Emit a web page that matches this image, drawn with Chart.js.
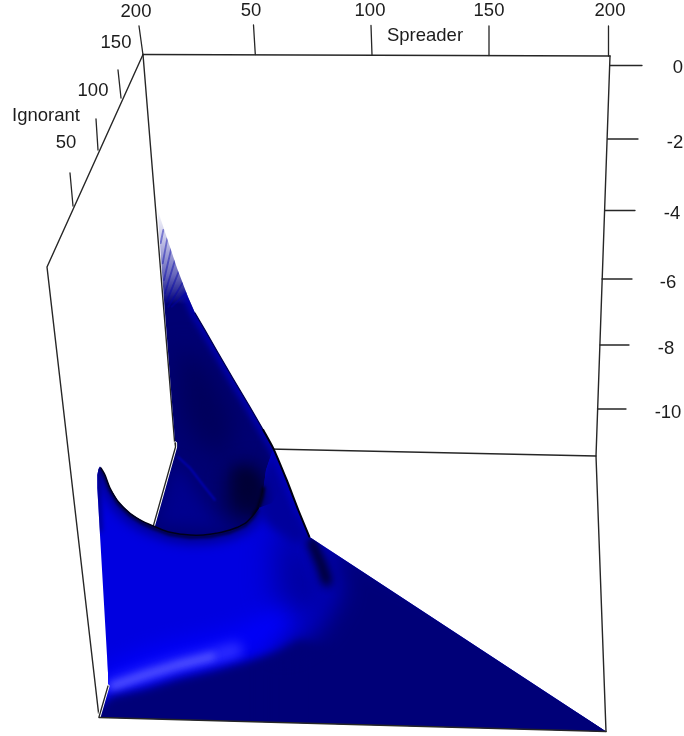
<!DOCTYPE html>
<html>
<head>
<meta charset="utf-8">
<style>html,body{margin:0;padding:0;background:#fff;overflow:hidden}canvas{display:block}</style>
<script src="https://cdn.jsdelivr.net/npm/chart.js@4"></script>
</head>
<body>
<canvas id="c" width="684" height="736"></canvas>
<script>
// ---------- text ----------
const spreaderTickLabels = ["200", "50", "100", "150", "200"];
const spreaderLabelAt = [[136,12],[251,11],[370,11],[489,11],[610,11]];
const ignorantTickLabels = ["150", "100", "50"];
const ignorantLabelAt = [[116,43],[93,91],[66,143]];
const zTickLabels = ["0", "-2", "-4", "-6", "-8", "-10"];
const zLabelAt = [[678,68],[675,143],[672,214],[668,283],[666,349],[668,413]];
const axisTitles = ["Spreader", "Ignorant"];
const axisTitleAt = [[425,35.5],[46,116]];

// ---------- perspective box, in the picture's plane ----------
const boxTop = [[143,54.5],[610,56]];
const boxRight = [[610,56],[596,456],[606,731.5]];
const boxBackLeft = [[143,54.5],[175,447]];
const boxLeft = [[143,54.5],[47,267],[99,717]];
const boxFloorBack = [[175,447],[596,456]];
const boxBottom = [[99,717.5],[606,731.5]];
const innerEdgeUpper = [[175,443],[175.5,447],[153.3,526]];
const innerEdgeLower = [[108,686],[99,717]];
const spreaderTicks = [[143,55],[139,26],null,[255.3,54.5],[253.5,25],null,[372,55],[371,25.5],null,[489,55.5],[489,26],null,[608.5,56],[608.5,26]];
const ignorantTicks = [[121,98],[118,70],null,[98,150],[96,119],null,[73,206],[70,173]];
const zTicks = [[610,65.5],[642,65.5],null,[607.5,139],[638,139],null,[605,210.5],[635,210.5],null,[602,279],[632,279],null,[600,345],[629,345],null,[597.5,409],[626,409]];

// ---------- surface outlines ----------
const backSheetOutline = [[157.5,210],[160,217],[177,268],[188,297],[195,313],[205,330],[216.7,350.5],[233.3,379],[250,407],[263.3,430],[273.3,448.3],[286.7,480],[298.3,510],[309.3,536.7],[258,548],[170,548],[153.3,527],[175.5,447],[164,300]];
const frontOutline = [[100,466.5],[105,475],[110,488],[118.3,501.7],[130,513.3],[143.3,521.7],[153.3,526],[170,532.3],[190,535],[210,534.3],[230,530],[245,523.3],[253.3,515],[258.3,508],[263,492],[266,470],[273.3,448.3],[286.7,480],[298.3,510],[309.3,536.7],[606,731.5],[99,717.5],[108,687],[108,673],[100,535],[97.3,488],[97.3,475],[98.5,469]];
const foldArea = [[262,470],[273.3,448.3],[286.7,480],[298.3,510],[309.3,536.7],[296,545],[268,525],[258,508]];
const foldClip = [[225,440],[273.3,448.3],[286.7,480],[272,503],[258.3,508],[253.3,515],[245,523.3],[230,530]];
const floorBand = [[85,712],[100,706],[112,696],[145,689],[178,679],[212,671],[245,662],[278,651],[300,640],[660,735],[660,770],[80,770]];
const floorRight = [[280,652],[318,628],[340,590],[328,560],[322,530],[690,720],[680,780],[280,780]];
const rightShade = [[280,515],[305,540],[335,600],[300,625],[275,590]];
const sheenPath = [[113,686],[145,675],[178,665],[212,656.5],[235,650]];
const sheenWide = [[112,680],[145,665],[180,655],[215,648],[250,638],[275,625]];
const neckShadow = [[311,540],[316,552],[322,566],[327,582]];
const ridgeBand = [[186,295],[195,315],[205,332],[216.7,352],[233.3,381],[250,409],[263.3,432],[273.3,450],[286.7,482],[298.3,512]];
const arcCurve = [[100,468],[105,477],[110,490],[118.3,503.7],[130,515.3],[143.3,523.7],[153.3,528],[170,534.3],[190,537],[210,536.3],[230,532],[245,525.3],[253.3,517],[258.3,510]];
const leftShadow = [[99,472],[98.5,490],[100,530]];
const arcEdge = [[101,468],[105,475],[110,488],[118.3,501.7],[130,513.3],[143.3,521.7],[153.3,526],[170,532.3],[190,535],[210,534.3],[230,530],[245,523.3],[253.3,515],[258.3,508]];
const arcTail = [[253.3,515],[258.3,508],[262,497],[263.5,488]];
const ridgeEdgeUpper = [[195,313],[205,330],[216.7,350.5],[233.3,379],[250,407],[263.3,430]];
const ridgeEdgeLower = [[263.3,430],[273.3,448.3],[286.7,480],[298.3,510],[309.3,536.7]];
const backShadow = [[228,472],[256,462],[264,500],[252,518],[228,512]];
const backCore = [[178,345],[210,370],[235,420],[225,460],[195,440],[180,410]];
const backLight = [[155,526],[176,462],[208,510],[235,530]];
const backStreak = [[178,457],[190,468],[203,485],[215,500]];
const foldShadow = [[240,474],[255,482],[259,497],[255,510]];
const fadeStripes = [[163.3,230],[160.7,243],null,[167.3,238.3],[162.7,263.3],null,[171.7,246.7],[164,280],null,[176,256.7],[165,293.3],null,[180,268.3],[166.7,301.7],null,[184.3,280],[168.3,306.7],null,[189.3,290],[171.7,306.7]];

// ---------- helpers ----------
const toPts = a => a.map(p => p ? {x:p[0], y:p[1]} : {x:null, y:null});
const LINE = '#262626';
function stroke(data, color, width, extra) {
  return Object.assign({data: toPts(data), showLine:true, fill:false, borderColor:color, borderWidth:width,
    pointRadius:0, tension:0, spanGaps:false, borderCapStyle:'round', borderJoinStyle:'round'}, extra||{});
}
function area(data, color, extra) {
  return Object.assign({data: toPts(data), showLine:true, fill:'shape', backgroundColor:color, borderWidth:0,
    borderColor:'rgba(0,0,0,0)', pointRadius:0, tension:0}, extra||{});
}
const fadeFill = c => {
  const chart = c.chart;
  if (!chart.chartArea) return '#000070';
  const y = chart.scales.y;
  const g = chart.ctx.createLinearGradient(0, y.getPixelForValue(208), 0, y.getPixelForValue(304));
  g.addColorStop(0, 'rgba(0,0,150,0)');
  g.addColorStop(0.3, 'rgba(0,0,150,0.2)');
  g.addColorStop(0.7, 'rgba(0,0,140,0.6)');
  g.addColorStop(0.92, 'rgba(0,0,125,0.9)');
  g.addColorStop(1, 'rgba(0,0,115,1)');
  return g;
};

const layers = [
  stroke(boxTop, LINE, 1.4),
  stroke(boxRight, LINE, 1.4),
  stroke(boxBackLeft, LINE, 1.4),
  stroke(boxLeft, LINE, 1.4),
  stroke(boxFloorBack, LINE, 1.4),
  stroke(spreaderTicks, LINE, 1.3),
  stroke(ignorantTicks, LINE, 1.3),
  stroke(zTicks, LINE, 1.3),

  area(backSheetOutline, fadeFill),
  stroke(fadeStripes, 'rgba(0,0,170,0.42)', 1.9, {clipOutline:backSheetOutline}),
  area(backCore, '#00005c', {blur:12, clipOutline:backSheetOutline}),
  area(backLight, '#00008e', {blur:8, clipOutline:backSheetOutline}),
  area(backShadow, '#000034', {blur:10, clipOutline:backSheetOutline}),
  stroke(backStreak, '#0000cc', 1.3, {blur:0.8, clipOutline:backSheetOutline}),
  stroke(innerEdgeUpper, '#ffffff', 3.2),
  stroke(innerEdgeUpper, LINE, 1.3),

  area(frontOutline, '#0000e0'),
  area(rightShade, '#00009c', {blur:16, clipOutline:frontOutline}),
  stroke(sheenWide, '#0000fa', 28, {blur:11, clipOutline:frontOutline}),
  stroke(sheenPath, '#2c2cff', 16, {blur:6, clipOutline:frontOutline}),
  stroke(sheenPath.slice(0,4), '#5656ff', 6, {blur:3.5, clipOutline:frontOutline}),
  area(floorBand, '#000078', {blur:4, clipOutline:frontOutline}),
  area(floorRight, '#000078', {blur:13, clipOutline:frontOutline}),
  stroke(neckShadow, '#000008', 8, {blur:5, clipOutline:frontOutline}),
  stroke(arcCurve, '#000090', 14, {blur:6, clipOutline:frontOutline}),
  stroke(arcCurve, '#00003c', 3, {blur:1.5, clipOutline:frontOutline}),
  stroke(leftShadow, '#00007c', 4, {blur:2.5, clipOutline:frontOutline}),

  area(foldArea, '#00009c', {blur:5, clipOutline:frontOutline}),
  stroke(foldShadow, '#000030', 10, {blur:7, clipOutline:foldClip}),
  stroke(ridgeBand, '#0000b4', 7, {blur:3, clipOutline:backSheetOutline}),
  stroke(arcTail, '#000010', 3, {blur:1.5, clipOutline:foldClip}),
  stroke(arcEdge, '#00001a', 1.5, {blur:0.5, tension:0.3}),
  stroke(ridgeEdgeUpper, '#000050', 1.3, {blur:0.4}),
  stroke(ridgeEdgeLower, '#000010', 2, {blur:0.5, tension:0.2}),

  stroke(innerEdgeLower, '#ffffff', 3.2),
  stroke(innerEdgeLower, LINE, 1.3),
  stroke(boxBottom, LINE, 1.4),
];
layers.forEach((d, i) => { d.order = layers.length - i; });

// Shading: each soft layer is blurred and kept inside its surface outline.
const surfaceShading = {
  id: 'surfaceShading',
  beforeDatasetDraw(chart, args) {
    const ds = chart.data.datasets[args.index];
    if (!ds.blur && !ds.clipOutline) return;
    const ctx = chart.ctx, sx = chart.scales.x, sy = chart.scales.y;
    ctx.save();
    if (ds.clipOutline) {
      ctx.beginPath();
      ds.clipOutline.forEach((p, i) => {
        const X = sx.getPixelForValue(p[0]), Y = sy.getPixelForValue(p[1]);
        i ? ctx.lineTo(X, Y) : ctx.moveTo(X, Y);
      });
      ctx.closePath();
      ctx.clip();
    }
    if (ds.blur) ctx.filter = 'blur(' + ds.blur + 'px)';
  },
  afterDatasetDraw(chart, args) {
    const ds = chart.data.datasets[args.index];
    if (ds.blur || ds.clipOutline) chart.ctx.restore();
  }
};
Chart.register(surfaceShading);
Chart.unregister(Chart.Filler);
Chart.register(Chart.Filler);

const axisText = {
  id: 'axisText',
  afterDraw(chart) {
    const ctx = chart.ctx, sx = chart.scales.x, sy = chart.scales.y;
    ctx.save();
    ctx.font = '18.5px "Liberation Sans", Arial, sans-serif';
    ctx.fillStyle = '#1c1c1c';
    ctx.textAlign = 'center';
    ctx.textBaseline = 'middle';
    const put = (labels, at) => labels.forEach((t, i) =>
      ctx.fillText(t, sx.getPixelForValue(at[i][0]), sy.getPixelForValue(at[i][1])));
    put(spreaderTickLabels, spreaderLabelAt);
    put(ignorantTickLabels, ignorantLabelAt);
    put(zTickLabels, zLabelAt);
    put(axisTitles, axisTitleAt);
    ctx.restore();
  }
};

new Chart(document.getElementById('c'), {
  type: 'scatter',
  data: {datasets: layers},
  plugins: [axisText],
  options: {
    responsive: false,
    animation: false,
    events: [],
    devicePixelRatio: 1,
    layout: {padding: 0},
    plugins: {legend: {display:false}, tooltip: {enabled:false}, title: {display:false}},
    scales: {
      x: {type:'linear', min:0, max:684, display:false},
      y: {type:'linear', min:0, max:736, reverse:true, display:false}
    }
  }
});
</script>
</body>
</html>
